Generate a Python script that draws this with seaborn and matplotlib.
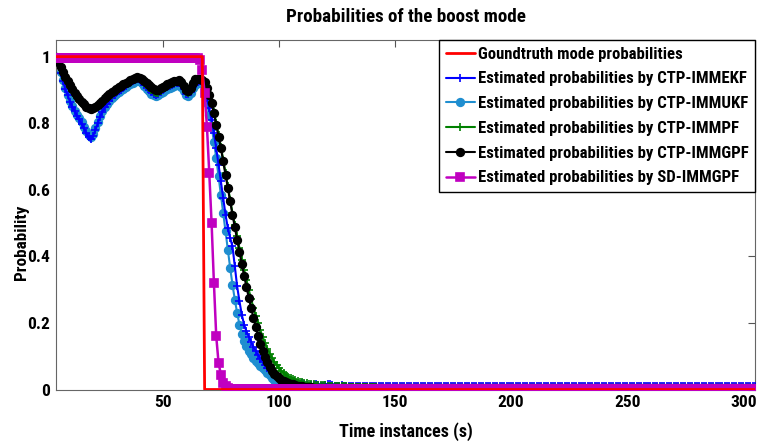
import numpy as np
import pandas as pd
import matplotlib
matplotlib.use("Agg")
import matplotlib.pyplot as plt
import seaborn as sns

sns.set_theme(style="white")
plt.rcParams["font.family"] = ["Roboto Condensed", "Liberation Sans", "DejaVu Sans"]
plt.rcParams["font.weight"] = "bold"
plt.rcParams["text.color"] = "black"
plt.rcParams["axes.labelcolor"] = "black"
plt.rcParams["xtick.color"] = "black"
plt.rcParams["ytick.color"] = "black"

T0 = 4
T_END = 305

labels = ["Goundtruth mode probabilities",
          "Estimated probabilities by CTP-IMMEKF",
          "Estimated probabilities by CTP-IMMUKF",
          "Estimated probabilities by CTP-IMMPF",
          "Estimated probabilities by CTP-IMMGPF",
          "Estimated probabilities by SD-IMMGPF"]

# ground truth (t = 4..67 -> 1, afterwards 0)
truth_head = [1.0] * 64
truth_tail_value = 0.0

ekf_head = [1.0, 0.975, 0.952, 0.928, 0.902, 0.884, 0.865, 0.85, 0.836, 0.822, 0.812, 0.798, 0.786, 0.77,
            0.758, 0.752, 0.762, 0.78, 0.80, 0.82, 0.834, 0.848, 0.857, 0.868, 0.876, 0.885, 0.89, 0.897,
            0.901, 0.907, 0.912, 0.917, 0.921, 0.926, 0.93, 0.934, 0.93, 0.925, 0.916, 0.908, 0.899, 0.893,
            0.887, 0.886, 0.889, 0.894, 0.899, 0.905, 0.909, 0.913, 0.915, 0.919, 0.921, 0.922, 0.915, 0.902,
            0.889, 0.887, 0.895, 0.909, 0.92, 0.925, 0.926, 0.925,
            0.905, 0.875, 0.845, 0.81, 0.77, 0.725, 0.675, 0.625, 0.575, 0.525, 0.485, 0.455, 0.43, 0.37,
            0.31, 0.265, 0.225, 0.195, 0.175, 0.158, 0.143, 0.128, 0.115, 0.103, 0.093, 0.083, 0.074, 0.066,
            0.059, 0.053, 0.047, 0.041, 0.036, 0.031, 0.027, 0.023, 0.02, 0.018, 0.016, 0.014, 0.013, 0.016,
            0.021, 0.018, 0.014, 0.012, 0.013, 0.015, 0.018, 0.014, 0.012, 0.011, 0.013, 0.016, 0.017, 0.014,
            0.012, 0.011, 0.012, 0.013, 0.012, 0.011, 0.011]
ekf_tail_value = 0.011

ukf_head = [1.0, 0.978, 0.955, 0.93, 0.905, 0.885, 0.868, 0.852, 0.838, 0.826, 0.815, 0.803, 0.79, 0.776,
            0.765, 0.76, 0.768, 0.785, 0.805, 0.822, 0.836, 0.848, 0.858, 0.867, 0.875, 0.882, 0.888, 0.894,
            0.899, 0.904, 0.909, 0.914, 0.918, 0.922, 0.926, 0.928, 0.926, 0.92, 0.912, 0.904, 0.896, 0.889,
            0.884, 0.882, 0.885, 0.89, 0.895, 0.90, 0.904, 0.907, 0.91, 0.913, 0.915, 0.916, 0.91, 0.897,
            0.886, 0.883, 0.89, 0.905, 0.915, 0.92, 0.922, 0.92,
            0.89, 0.86, 0.825, 0.79, 0.745, 0.695, 0.64, 0.585, 0.53, 0.475, 0.42, 0.365, 0.315, 0.27,
            0.23, 0.195, 0.168, 0.147, 0.13, 0.117, 0.106, 0.096, 0.087, 0.079, 0.072, 0.065, 0.058, 0.05,
            0.043, 0.036, 0.03, 0.025, 0.021, 0.017, 0.014, 0.012, 0.01, 0.009, 0.008, 0.007, 0.006, 0.006,
            0.005]
ukf_tail_value = 0.004

pf_head = [1.0, 0.983, 0.967, 0.951, 0.936, 0.922, 0.909, 0.897, 0.887, 0.877, 0.868, 0.86, 0.853, 0.847,
           0.843, 0.842, 0.845, 0.849, 0.853, 0.858, 0.863, 0.868, 0.874, 0.88, 0.886, 0.892, 0.898, 0.904,
           0.909, 0.914, 0.918, 0.922, 0.926, 0.93, 0.933, 0.935, 0.933, 0.928, 0.921, 0.914, 0.907, 0.90,
           0.894, 0.89, 0.892, 0.897, 0.902, 0.907, 0.912, 0.916, 0.919, 0.922, 0.925, 0.927, 0.921, 0.908,
           0.895, 0.892, 0.90, 0.915, 0.927, 0.93, 0.93, 0.93,
           0.925, 0.91, 0.89, 0.865, 0.835, 0.80, 0.765, 0.73, 0.69, 0.65, 0.61, 0.57, 0.53, 0.495,
           0.46, 0.425, 0.39, 0.36, 0.33, 0.30, 0.272, 0.246, 0.222, 0.20, 0.178, 0.158, 0.14, 0.123,
           0.108, 0.095, 0.083, 0.073, 0.064, 0.056, 0.05, 0.044, 0.039, 0.035, 0.032, 0.029, 0.026, 0.024,
           0.022, 0.02, 0.019, 0.018, 0.017, 0.016, 0.015, 0.014, 0.014, 0.013, 0.013, 0.012, 0.012, 0.011,
           0.011, 0.011, 0.01, 0.01, 0.01, 0.01, 0.009, 0.009, 0.009, 0.009, 0.008, 0.008, 0.008, 0.008,
           0.008, 0.007, 0.007, 0.007, 0.007, 0.006, 0.006, 0.006]
pf_tail_value = 0.005

gpf_head = [1.0, 0.985, 0.97, 0.955, 0.94, 0.927, 0.914, 0.902, 0.892, 0.882, 0.873, 0.865, 0.857, 0.85,
            0.845, 0.843, 0.845, 0.85, 0.856, 0.862, 0.868, 0.875, 0.881, 0.887, 0.893, 0.898, 0.903, 0.908,
            0.913, 0.917, 0.921, 0.925, 0.929, 0.933, 0.936, 0.938, 0.936, 0.932, 0.926, 0.92, 0.914, 0.908,
            0.903, 0.90, 0.901, 0.905, 0.909, 0.913, 0.917, 0.92, 0.923, 0.926, 0.928, 0.93, 0.925, 0.912,
            0.899, 0.896, 0.905, 0.92, 0.932, 0.933, 0.932, 0.93,
            0.925, 0.905, 0.885, 0.86, 0.83, 0.795, 0.76, 0.725, 0.685, 0.645, 0.605, 0.565, 0.525, 0.487,
            0.45, 0.413, 0.377, 0.342, 0.308, 0.276, 0.245, 0.216, 0.188, 0.162, 0.138, 0.117, 0.098, 0.082,
            0.068, 0.057, 0.048, 0.041, 0.035, 0.03, 0.026, 0.023, 0.02, 0.018, 0.016, 0.014, 0.012, 0.011,
            0.01, 0.009, 0.008, 0.007, 0.007, 0.006, 0.006, 0.005, 0.005]
gpf_tail_value = 0.004

sd_head = [0.995] * 62 + [0.99, 0.96, 0.89, 0.79, 0.65, 0.50, 0.32, 0.16, 0.08, 0.045, 0.02, 0.01, 0.006]
sd_tail_value = 0.002


def full_series(head, tail_value):
    n_tail = T_END - (T0 + len(head)) + 1
    return list(head) + [tail_value] * n_tail


series = {
    labels[0]: full_series(truth_head, truth_tail_value),
    labels[1]: full_series(ekf_head, ekf_tail_value),
    labels[2]: full_series(ukf_head, ukf_tail_value),
    labels[3]: full_series(pf_head, pf_tail_value),
    labels[4]: full_series(gpf_head, gpf_tail_value),
    labels[5]: full_series(sd_head, sd_tail_value),
}
t = np.arange(T0, T_END + 1)
df = pd.DataFrame({"t": np.tile(t, len(labels)),
                   "p": np.concatenate([series[k] for k in labels]),
                   "method": np.repeat(labels, len(t))})

styles = {
    labels[0]: dict(color="#ff0000", marker=None, ms=0, lw=2.0, z=7),
    labels[1]: dict(color="#0000ff", marker="+", ms=5.5, lw=1.5, z=3),
    labels[2]: dict(color="#1f8ed0", marker="o", ms=5.5, lw=1.5, z=2),
    labels[3]: dict(color="#008000", marker="+", ms=5.5, lw=1.5, z=4),
    labels[4]: dict(color="#000000", marker="o", ms=5.5, lw=1.5, z=5),
    labels[5]: dict(color="#c000c0", marker="s", ms=6.3, lw=1.8, z=6),
}

fig = plt.figure(figsize=(7.58, 4.48), dpi=100)
ax = fig.add_axes([56 / 758, (448 - 389.5) / 448, (755 - 56) / 758, (389.5 - 40) / 448])

handles = {}
for lab in labels:
    st = styles[lab]
    sub = df[df["method"] == lab]
    kw = {}
    if st["marker"]:
        kw = dict(marker=st["marker"], markersize=st["ms"], markeredgecolor=st["color"],
                  markerfacecolor=st["color"], markeredgewidth=1.2)
    sns.lineplot(data=sub, x="t", y="p", ax=ax, color=st["color"], linewidth=st["lw"],
                 zorder=st["z"], legend=False, **kw)
    handles[lab] = ax.lines[-1]

ax.set_xlim(T0, T_END)
ax.set_ylim(0, 1.05)
ax.set_xticks([50, 100, 150, 200, 250, 300])
ax.set_yticks([0, 0.2, 0.4, 0.6, 0.8, 1])
ax.set_yticklabels(["0", "0.2", "0.4", "0.6", "0.8", "1"])
ax.tick_params(direction="in", length=5, width=0.8, top=True, right=True, colors="#555555",
               labelcolor="black", labelsize=12.5, pad=4)
for lbl in ax.get_xticklabels() + ax.get_yticklabels():
    lbl.set_fontweight("bold")
for sp in ax.spines.values():
    sp.set_color("#666666")
    sp.set_linewidth(0.8)

ax.set_xlabel("Time instances (s)", fontsize=13, fontweight="bold", labelpad=9)
ax.set_ylabel("Probability", fontsize=12.3, fontweight="bold")
ax.yaxis.set_label_coords(-0.039, 0.42)
ax.set_title("Probabilities of the boost mode", fontsize=13.7, fontweight="bold", pad=13)

leg = ax.legend([handles[l] for l in labels], labels, loc="upper right", bbox_to_anchor=(1.0, 1.0),
                borderaxespad=0.0, frameon=True, fancybox=False, framealpha=1, edgecolor="black",
                prop=dict(weight="bold", size=12.1), handlelength=1.75, handletextpad=0.15,
                labelspacing=0.58, borderpad=0.4, markerscale=1.0)
leg.get_frame().set_linewidth(1.0)
leg.set_zorder(10)

fig.savefig("out.png", dpi=100, facecolor="white")
